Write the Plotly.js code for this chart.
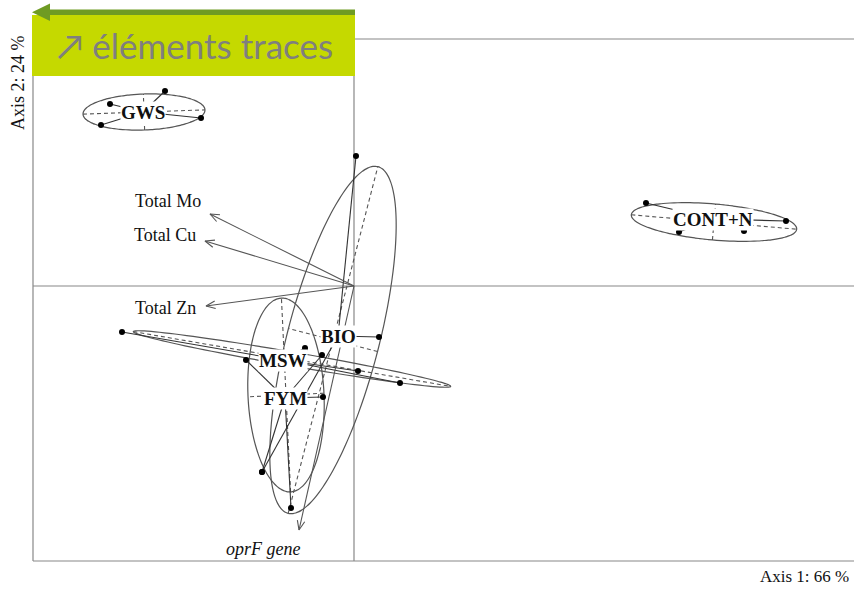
<!DOCTYPE html>
<html><head><meta charset="utf-8">
<script src="https://cdn.plot.ly/plotly-3.0.1.min.js"></script>
<style>html,body{margin:0;padding:0;background:#fff}</style>
</head><body>
<div id="chart" style="width:854px;height:589px"></div>
<script>
// Between-class PCA: treatment classes, their samples and the active variables
const groups     = ['GWS', 'CONT+N', 'BIO', 'MSW', 'FYM'];
const centroidX  = [-2.11, 3.59, -0.16, -0.71, -0.69];
const centroidY  = [ 1.74, 0.67, -0.50, -0.74, -1.12];

// sample scores (class index, axis 1, axis 2)
const sampleGroup = [0, 0, 0, 0,  1, 1, 1, 1,  2, 2, 2,  3, 3, 3, 3,  4, 4, 4, 4, 4];
const sampleX = [-1.89, -2.44, -2.53, -1.53,  2.92, 4.32, 3.25, 3.90,  0.02, 0.25, -0.92,
                 -2.32, -0.49, 0.04, 0.46,  -1.08, -0.32, -0.31, -0.63, -0.92];
const sampleY = [ 1.95,  1.82,  1.61,  1.68,  0.83, 0.65, 0.54, 0.55,  1.30, -0.51, -1.86,
                 -0.46, -0.62, -0.85, -0.97,  -0.74, -0.69, -1.11, -2.22, -1.86];

// inertia ellipses per class: centre, half axes, orientation (degrees)
const ellX     = [-2.10, 3.60, -0.21, -0.62, -0.68];
const ellY     = [ 1.74, 0.64, -0.54, -0.73, -1.09];
const ellA     = [ 0.61, 0.83,  1.79,  1.61,  0.97];
const ellB     = [ 0.18, 0.18,  0.46,  0.07,  0.38];
const ellAngle = [ 2,   -5,    75.5,  -9.8,  92.7];

// variable loadings
const varNames = ['Total Mo', 'Total Cu', 'Total Zn', 'oprF gene'];
const varX = [-1.44, -1.49, -1.48, -0.55];
const varY = [ 0.72,  0.45, -0.20, -2.44];

const axisLabels = ['Axis 1: 66 %', 'Axis 2: 24 %'];
const bannerText = '↗ éléments traces';

// ---------------------------------------------------------------
const SERIF = '"Liberation Serif", "Times New Roman", serif';
const W = 854, H = 589, ML = 33, MR = 0, MT = 39, MB = 28;
const PW = W - ML - MR, PH = H - MT - MB;
const px2paperX = p => (p - ML) / PW;
const px2paperY = p => (H - MB - p) / PH;

const traces = [];

// ellipses and their dashed axes
const ellLineX = [], ellLineY = [], axLineX = [], axLineY = [];
for (let g = 0; g < groups.length; g++) {
  const t = ellAngle[g] * Math.PI / 180, c = Math.cos(t), s = Math.sin(t);
  for (let k = 0; k <= 120; k++) {
    const u = 2 * Math.PI * k / 120;
    const ex = ellA[g] * Math.cos(u), ey = ellB[g] * Math.sin(u);
    ellLineX.push(ellX[g] + ex * c - ey * s);
    ellLineY.push(ellY[g] + ex * s + ey * c);
  }
  ellLineX.push(null); ellLineY.push(null);
  axLineX.push(ellX[g] - ellA[g] * c, ellX[g] + ellA[g] * c, null,
               ellX[g] + ellB[g] * s, ellX[g] - ellB[g] * s, null);
  axLineY.push(ellY[g] - ellA[g] * s, ellY[g] + ellA[g] * s, null,
               ellY[g] - ellB[g] * c, ellY[g] + ellB[g] * c, null);
}
traces.push({x: axLineX, y: axLineY, mode: 'lines', hoverinfo: 'skip',
             line: {color: '#555', width: 1.1, dash: '4px,3px'}});
traces.push({x: ellLineX, y: ellLineY, mode: 'lines', hoverinfo: 'skip',
             line: {color: '#555', width: 1.2, shape: 'spline'}});

// star links from each sample to its class centroid
const starX = [], starY = [];
sampleX.forEach((x, i) => {
  const g = sampleGroup[i];
  starX.push(centroidX[g], x, null);
  starY.push(centroidY[g], sampleY[i], null);
});
traces.push({x: starX, y: starY, mode: 'lines', hoverinfo: 'skip',
             line: {color: '#333', width: 1.1}});

// variable arrows with open heads
const arrX = [], arrY = [];
const headLen = 0.10, headAng = 22 * Math.PI / 180;
varX.forEach((x, i) => {
  const y = varY[i];
  arrX.push(0, x, null); arrY.push(0, y, null);
  const th = Math.atan2(y, x);
  arrX.push(x - headLen * Math.cos(th - headAng), x, x - headLen * Math.cos(th + headAng), null);
  arrY.push(y - headLen * Math.sin(th - headAng), y, y - headLen * Math.sin(th + headAng), null);
});
traces.push({x: arrX, y: arrY, mode: 'lines', hoverinfo: 'skip',
             line: {color: '#555', width: 1.1}});

// sample points
traces.push({x: sampleX, y: sampleY, mode: 'markers', hoverinfo: 'skip',
             marker: {color: '#000', size: 6}});

const annotations = [];

// class labels at centroids
groups.forEach((g, i) => annotations.push({
  x: centroidX[i], y: centroidY[i], xref: 'x', yref: 'y', text: '<b>' + g + '</b>',
  showarrow: false, bgcolor: '#fff', borderpad: 0,
  font: {family: SERIF, size: 19, color: '#111'}
}));

// variable labels beside arrow tips
const varLabelShift = [[-7, 13, 'right'], [-7, 6, 'right'], [-8, -2, 'right'], [-36, -19, 'center']];
varNames.forEach((v, i) => annotations.push({
  x: varX[i], y: varY[i], xref: 'x', yref: 'y',
  text: i === 3 ? '<i>' + v + '</i>' : v,
  showarrow: false, xanchor: varLabelShift[i][2], yanchor: 'middle',
  xshift: varLabelShift[i][0], yshift: varLabelShift[i][1],
  font: {family: SERIF, size: 18, color: '#111'}
}));

// axis captions
annotations.push({x: 1, y: px2paperY(588), xref: 'paper', yref: 'paper', text: axisLabels[0],
  showarrow: false, xanchor: 'right', yanchor: 'bottom', xshift: -3,
  font: {family: SERIF, size: 17, color: '#111'}});
annotations.push({x: px2paperX(18), y: px2paperY(83), xref: 'paper', yref: 'paper', text: axisLabels[1],
  showarrow: false, textangle: -90, xanchor: 'center', yanchor: 'middle',
  font: {family: SERIF, size: 18, color: '#111'}});

// banner text
annotations.push({x: px2paperX(55), y: px2paperY(45), xref: 'paper', yref: 'paper', text: bannerText,
  showarrow: false, xanchor: 'left', yanchor: 'middle',
  font: {family: 'Lato, "Open Sans", sans-serif', size: 35, color: '#7f7f7f'}});

const shapes = [
  // frame (left, top, bottom) and zero lines
  {type: 'line', xref: 'paper', yref: 'paper', x0: 0, x1: 0, y0: 0, y1: 1, line: {color: '#888', width: 1.2}},
  {type: 'line', xref: 'paper', yref: 'paper', x0: 0, x1: 1, y0: 1, y1: 1, line: {color: '#888', width: 1.2}},
  {type: 'line', xref: 'paper', yref: 'paper', x0: 0, x1: 1, y0: 0, y1: 0, line: {color: '#888', width: 1.2}},
  {type: 'line', xref: 'paper', yref: 'y', x0: 0, x1: 1, y0: 0, y1: 0, line: {color: '#888', width: 1.2}, layer: 'below'},
  {type: 'line', xref: 'x', yref: 'paper', x0: 0, x1: 0, y0: 0, y1: 1, line: {color: '#888', width: 1.2}, layer: 'below'},
  // banner
  {type: 'rect', xref: 'paper', yref: 'paper', x0: px2paperX(32), x1: px2paperX(355),
   y0: px2paperY(76), y1: px2paperY(15), fillcolor: '#c5d900', line: {width: 0}},
  {type: 'rect', xref: 'paper', yref: 'paper', x0: px2paperX(48), x1: px2paperX(355),
   y0: px2paperY(15), y1: px2paperY(9.5), fillcolor: '#6f9b23', line: {width: 0}},
  {type: 'path', xref: 'paper', yref: 'paper',
   path: `M ${px2paperX(32)} ${px2paperY(12.3)} L ${px2paperX(50)} ${px2paperY(3.5)} L ${px2paperX(50)} ${px2paperY(21)} Z`,
   fillcolor: '#6f9b23', line: {width: 0}}
];

const layout = {
  width: W, height: H, margin: {l: ML, r: MR, t: MT, b: MB},
  paper_bgcolor: '#fff', plot_bgcolor: '#fff', showlegend: false,
  xaxis: {range: [-3.21, 5.00], visible: false, fixedrange: true},
  yaxis: {range: [-2.75, 2.47], visible: false, fixedrange: true},
  shapes, annotations
};

Plotly.newPlot('chart', traces, layout, {staticPlot: true, displayModeBar: false});
</script>
</body></html>
